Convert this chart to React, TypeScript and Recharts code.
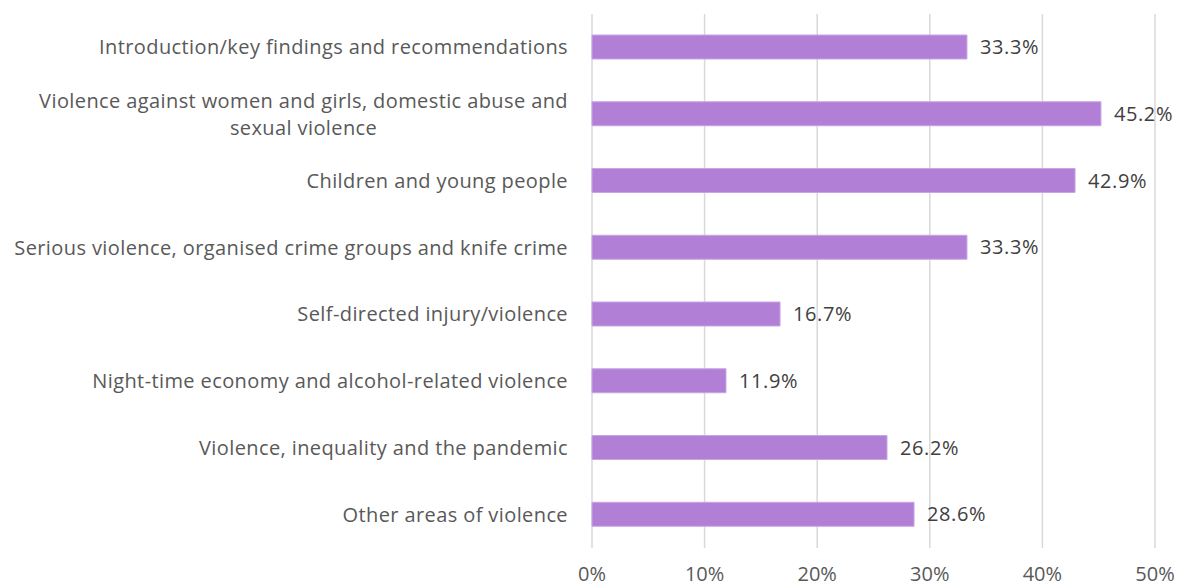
import { BarChart, Bar, XAxis, YAxis, CartesianGrid, LabelList } from "recharts";

const categories = [
  "Introduction/key findings and recommendations",
  "Violence against women and girls, domestic abuse and sexual violence",
  "Children and young people",
  "Serious violence, organised crime groups and knife crime",
  "Self-directed injury/violence",
  "Night-time economy and alcohol-related violence",
  "Violence, inequality and the pandemic",
  "Other areas of violence",
];
const shares = [33.3, 45.2, 42.9, 33.3, 16.7, 11.9, 26.2, 28.6];
const xTicks = [0, 10, 20, 30, 40, 50];

const data = categories.map((name, i) => ({ name, value: shares[i] }));

const FONT = "'Open Sans', sans-serif";
const FS = 20;
const SPACING = 0.4;
const TEXT = "#595959";

// simple word wrap by character count
function wrap(label: string, max = 56): string[] {
  const words = label.split(" ");
  const lines: string[] = [];
  let cur = "";
  for (const w of words) {
    const next = cur ? cur + " " + w : w;
    if (next.length > max && cur) {
      lines.push(cur);
      cur = w;
    } else cur = next;
  }
  if (cur) lines.push(cur);
  return lines;
}

function measure(s: string): number {
  const ctx = document.createElement("canvas").getContext("2d");
  if (!ctx) return s.length * 10;
  ctx.font = `${FS}px ${FONT}`;
  return ctx.measureText(s).width + s.length * SPACING;
}

function CategoryTick(props: any) {
  const { x, y, payload } = props;
  const lines = wrap(String(payload.value));
  if (lines.length === 1) {
    return (
      <text x={x} y={y} dy="0.35em" textAnchor="end" fill={TEXT} fontSize={FS} fontFamily={FONT} letterSpacing={SPACING}>
        {lines[0]}
      </text>
    );
  }
  const w = measure(lines[0]);
  const cx = x - w / 2;
  const lh = 27;
  const top = y - ((lines.length - 1) * lh) / 2;
  return (
    <text textAnchor="middle" fill={TEXT} fontSize={FS} fontFamily={FONT} letterSpacing={SPACING}>
      {lines.map((l, i) => (
        <tspan key={i} x={cx} y={top + i * lh} dy="0.35em">
          {l}
        </tspan>
      ))}
    </text>
  );
}

export default function App() {
  return (
    <div style={{ position: "absolute", left: 0, top: 0, background: "#fff" }}>
      <BarChart
        width={1182}
        height={588}
        data={data}
        layout="vertical"
        margin={{ top: 14, right: 27, bottom: 0, left: 0 }}
        barCategoryGap={0}
      >
        <CartesianGrid horizontal={false} stroke="#d9d9d9" strokeWidth={1.5} />
        <XAxis
          type="number"
          domain={[0, 50]}
          ticks={xTicks}
          tickFormatter={(v: number) => `${v}%`}
          axisLine={false}
          tickLine={false}
          tickSize={0}
          tickMargin={19}
          height={40}
          interval={0}
          tick={{ fill: TEXT, fontSize: FS, fontFamily: FONT }}
        />
        <YAxis
          type="category"
          dataKey="name"
          width={592}
          axisLine={false}
          tickLine={false}
          tickSize={0}
          tickMargin={24}
          interval={0}
          tick={<CategoryTick />}
        />
        <Bar dataKey="value" fill="#b180d6" stroke="#c9a5e4" strokeWidth={1} barSize={24} isAnimationActive={false}>
          <LabelList
            dataKey="value"
            position="right"
            offset={13}
            formatter={(v: any) => `${Number(v).toFixed(1)}%`}
            fill="#404040"
            fontSize={FS}
            fontFamily={FONT}
            letterSpacing={0.6}
          />
        </Bar>
      </BarChart>
    </div>
  );
}
